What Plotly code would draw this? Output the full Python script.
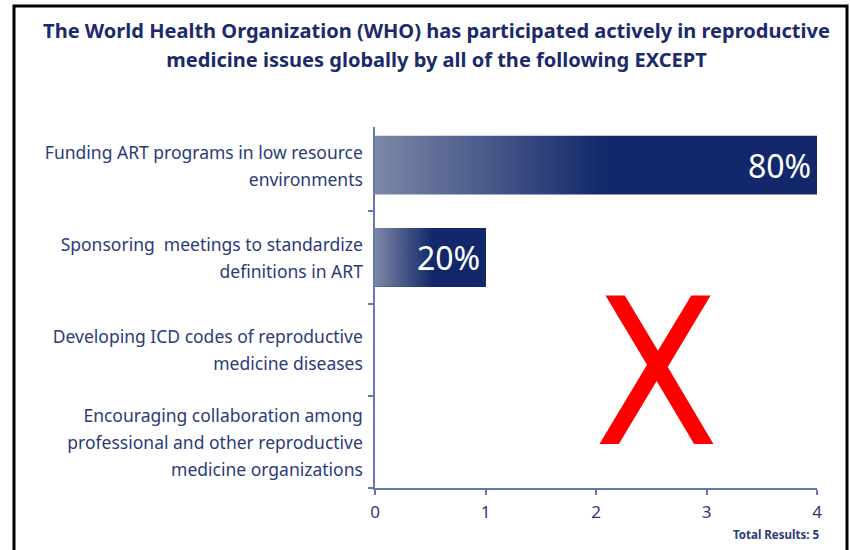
import plotly.graph_objects as go

# ---------------- data ----------------
categories = [
    "Funding ART programs in low resource<br>environments",
    "Sponsoring\u00a0 meetings to standardize<br>definitions in ART",
    "Developing ICD codes of reproductive<br>medicine diseases",
    "Encouraging collaboration among<br>professional and other reproductive<br>medicine organizations",
]
responses = [4, 1, 0, 0]
total_results = 5
x_tick_values = [0, 1, 2, 3, 4]
title_lines = [
    "The World Health Organization (WHO) has participated actively in reproductive",
    "medicine issues globally by all of the following EXCEPT",
]

# ---------------- styles ----------------
W, H = 850, 550
L, R, T, B = 375, 817, 127, 488  # plot area in pixels
ROW_PX = 92.25                   # pixel height of one category row
DARK = "#12286a"
LIGHT = "#7d88a7"
LABEL = "#2b3b79"
TITLE = "#1a2a6b"
AXIS = "#6877ad"
FONT = "Noto Sans, Open Sans, DejaVu Sans, sans-serif"


def px_x(p):
    return (p - L) / (R - L)


def px_y(p):
    return (B - p) / (B - T)


def wrap(text, size):
    return "<br>".join(
        f"<span style='font-size:{size}px'>{line}</span>" for line in text.split("<br>")
    )


positions = list(range(len(categories)))
bar_w = 0.635
y_bottom = len(categories) - 0.5
y_top = y_bottom - (B - T) / ROW_PX

fig = go.Figure()
fig.add_trace(
    go.Bar(
        x=responses,
        y=positions,
        orientation="h",
        width=bar_w,
        marker=dict(color=DARK, line=dict(width=0)),
        hoverinfo="x",
        showlegend=False,
    )
)

# gradient overlay for each bar, built from the same values
for pos, v in zip(positions, responses):
    if v <= 0:
        continue
    y0, y1 = pos - bar_w / 2, pos + bar_w / 2
    fig.add_trace(
        go.Scatter(
            x=[0, v, v, 0, 0],
            y=[y0, y0, y1, y1, y0],
            mode="lines",
            line=dict(width=0, color="rgba(0,0,0,0)"),
            fill="toself",
            fillgradient=dict(
                type="horizontal",
                colorscale=[[0, LIGHT], [0.52, DARK], [1, DARK]],
            ),
            hoverinfo="skip",
            showlegend=False,
        )
    )
    fig.add_annotation(
        x=v, y=pos, xref="x", yref="y",
        text=f"{100 * v / total_results:.0f}%",
        showarrow=False, xanchor="right", xshift=-4,
        font=dict(size=32, color="white", family=FONT),
    )

# big red X
fig.add_annotation(
    x=px_x(656), y=px_y(373.5), xref="paper", yref="paper",
    text="X", showarrow=False, xanchor="center", yanchor="middle",
    font=dict(size=203, color="#ff0000",
              family="Liberation Sans Narrow, DejaVu Sans Condensed, Noto Sans"),
)

# total results
fig.add_annotation(
    x=px_x(821), y=px_y(534), xref="paper", yref="paper",
    text=f"Total Results: {total_results}", showarrow=False,
    xanchor="right", yanchor="middle",
    font=dict(size=11.5, color=LABEL, family=FONT, weight="bold"),
)

# frame
fig.add_shape(
    type="rect", xref="paper", yref="paper",
    x0=px_x(14), x1=px_x(847), y0=px_y(575), y1=px_y(6),
    line=dict(color="black", width=3), fillcolor="rgba(0,0,0,0)",
)

fig.update_layout(
    width=W, height=H,
    margin=dict(l=L, r=W - R, t=T, b=H - B, pad=0),
    paper_bgcolor="white", plot_bgcolor="white",
    title=dict(
        text="<br>".join(f"<span style='font-size:20.05px'>{t}</span>" for t in title_lines),
        x=436.5 / W, xref="container", xanchor="center",
        y=1 - 38 / H, yref="container", yanchor="top",
        font=dict(size=22.3, color=TITLE, family=FONT, weight="bold"),
    ),
    xaxis=dict(
        range=[0, 4], tickvals=x_tick_values, ticks="outside", ticklen=5,
        tickcolor=AXIS, tickwidth=1.5, showline=True, linecolor=AXIS, linewidth=2,
        showgrid=False, zeroline=False,
        tickfont=dict(size=17, color=LABEL, family=FONT),
        ticklabelstandoff=3,
    ),
    yaxis=dict(
        range=[y_bottom, y_top],
        tickvals=positions,
        ticktext=[wrap(c, 17.5) for c in categories],
        ticks="",
        minor=dict(tickvals=[p + 0.5 for p in positions], ticks="outside",
                   ticklen=5, tickcolor=AXIS, tickwidth=1.5, showgrid=False),
        showline=True, linecolor=AXIS, linewidth=2,
        showgrid=False, zeroline=False,
        tickfont=dict(size=20.5, color=LABEL, family=FONT),
        ticklabelstandoff=6,
    ),
    bargap=0,
)

# remove the default page margin so the figure sits at the window's top-left corner
fig.write_html(
    "out.html",
    config={"displayModeBar": False},
    post_script="document.body.style.margin='0px';",
)
